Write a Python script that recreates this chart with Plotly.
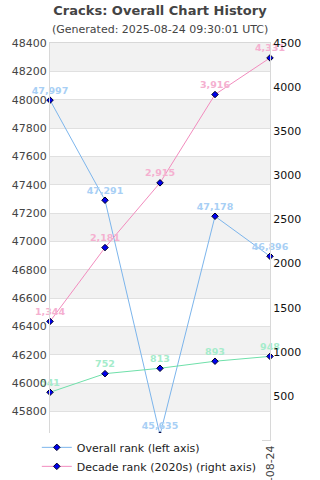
import plotly.graph_objects as go

dates = ["2021-12-31", "2022-12-31", "2023-12-31", "2024-12-31", "2025-08-24"]
overall_rank = [47997, 47291, 45635, 47178, 46896]
decade_rank = [1344, 2181, 2915, 3916, 4331]
year_rank = [541, 752, 813, 893, 948]

left_ticks = list(range(45800, 48401, 200))
right_ticks = list(range(500, 4501, 500))
left_range = [45600, 48400]
right_range = [0, 4500]

FONT = "DejaVu Sans"
marker = dict(symbol="diamond", size=5, color="#0000ee", line=dict(color="#000022", width=1))

def fmt(v):
    return f"{v:,}"

fig = go.Figure()
fig.add_trace(go.Scatter(
    x=dates, y=overall_rank, name="Overall rank (left axis)", mode="lines+markers+text",
    line=dict(color="#7cb5ec", width=1), marker=marker,
    text=[fmt(v) for v in overall_rank], textposition="top center",
    textfont=dict(family=FONT, size=9.5, color="#a8cff5", weight="bold"),
    cliponaxis=False, yaxis="y"))
fig.add_trace(go.Scatter(
    x=dates, y=decade_rank, name="Decade rank (2020s) (right axis)", mode="lines+markers+text",
    line=dict(color="#f28cbe", width=1), marker=marker,
    text=[fmt(v) for v in decade_rank], textposition="top center",
    textfont=dict(family=FONT, size=9.5, color="#f5b0d0", weight="bold"),
    cliponaxis=False, yaxis="y2"))
fig.add_trace(go.Scatter(
    x=dates, y=year_rank, name="Year rank (2021) (right axis)", mode="lines+markers+text",
    line=dict(color="#6fe0aa", width=1), marker=marker,
    text=[fmt(v) for v in year_rank], textposition="top center",
    textfont=dict(family=FONT, size=9.5, color="#a5eccb", weight="bold"),
    cliponaxis=False, yaxis="y2"))

shapes = []
for i, lo in enumerate(range(left_range[0], left_range[1], 200)):
    if i % 2 == 1:
        shapes.append(dict(type="rect", xref="paper", yref="y", x0=0, x1=1, y0=lo, y1=lo + 200,
                           fillcolor="#f2f2f2", line=dict(width=0), layer="below"))

fig.update_layout(
    width=320, height=480,
    margin=dict(l=50, r=50, t=43, b=40, autoexpand=False),
    paper_bgcolor="white", plot_bgcolor="white",
    font=dict(family=FONT, size=11, color="#444"),
    title=dict(text="<b>Cracks: Overall Chart History</b>", x=0.5, xanchor="center",
               y=1 - 10 / 480, yanchor="middle", font=dict(size=13, color="#444")),
    annotations=[dict(text="(Generated: 2025-08-24 09:30:01 UTC)", xref="paper", yref="paper",
                      x=0.5, y=1 + (43 - 29) / 397, xanchor="center", yanchor="middle",
                      showarrow=False, font=dict(size=11, color="#444"))],
    shapes=shapes,
    xaxis=dict(type="category", range=[0, len(dates) - 1], tickangle=-90, showgrid=False,
               showline=True, linecolor="#d8d8d8", mirror=True, ticks="", automargin=False,
               tickfont=dict(size=11, color="#444")),
    yaxis=dict(range=left_range, tickvals=left_ticks, tickformat="d", showgrid=True,
               gridcolor="#e0e0e0", zeroline=False, showline=True, linecolor="#d8d8d8",
               ticks="", automargin=False, tickfont=dict(size=11, color="#444")),
    yaxis2=dict(range=right_range, tickvals=right_ticks, tickformat="d", overlaying="y",
                side="right", showgrid=False, zeroline=False, showline=True, linecolor="#d8d8d8",
                ticks="", automargin=False, tickfont=dict(size=11, color="#111")),
    showlegend=True,
    legend=dict(orientation="v", x=-0.06, xanchor="left", y=0.018, yanchor="top",
                bgcolor="white", font=dict(size=11, color="#222"), tracegroupgap=0),
)

fig.write_html("out.html")
